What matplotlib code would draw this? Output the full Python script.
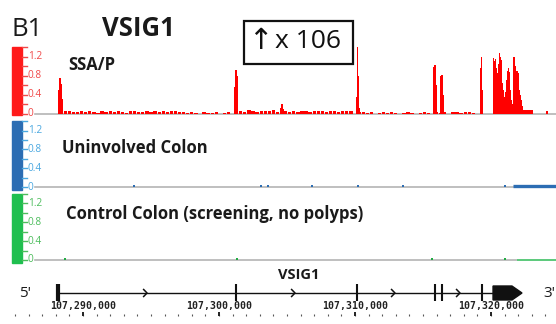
import matplotlib
matplotlib.use('Agg')
import matplotlib.pyplot as plt
from matplotlib.patches import Rectangle, Polygon
from matplotlib.transforms import blended_transform_factory

# ---------------- data (x positions in kb past chr position 107,280,000) ----------------
genome_origin = 107280000
x_range_kb = (4.78, 44.78)

track_names = ["SSA/P", "Uninvolved Colon", "Control Colon (screening, no polyps)"]
scale_ticks = [0, 0.4, 0.8, 1.2]
scale_labels = ["0", "0.4", "0.8", "1.2"]
minor_ticks = [0.2, 0.6, 1.0, 1.4]

# SSA/P background coverage in 0.3 kb bins starting at 8.7 kb
ssa_noise_start = 8.7
ssa_noise_step = 0.3
ssa_noise = [
    0.06, 0.05, 0.03, 0.04, 0.06, 0.03, 0.05, 0.04, 0.02, 0.05,
    0.04, 0.06, 0.03, 0.05, 0.04, 0.02, 0.05, 0.06, 0.04, 0.03,
    0.05, 0.04, 0.06, 0.03, 0.05, 0.04, 0.06, 0.05, 0.03, 0.04,
    0.02, 0.03, 0.02, 0.00, 0.03, 0.02, 0.02, 0.03, 0.00, 0.02,
    0.03, 0.00, 0.05, 0.06, 0.04, 0.07, 0.05, 0.04, 0.06, 0.05,
    0.05, 0.07, 0.04, 0.06, 0.05, 0.03, 0.06, 0.04, 0.05, 0.06,
    0.04, 0.05, 0.06, 0.05, 0.04, 0.06, 0.05, 0.04, 0.05, 0.06,
    0.05, 0.00, 0.04, 0.03, 0.02, 0.03, 0.00, 0.02, 0.03, 0.02,
    0.03, 0.02, 0.00, 0.02, 0.03, 0.02, 0.00, 0.02, 0.03, 0.02,
    0.00, 0.03, 0.02, 0.03, 0.00, 0.04, 0.03, 0.02, 0.04, 0.03,
    0.02,
]
# SSA/P isolated peaks
ssa_peak_kb = [8.24, 8.31, 8.38, 8.45,
               21.18, 21.25, 21.32,
               24.56, 24.63, 24.70,
               30.13, 30.20, 30.27, 30.34,
               35.81, 35.88, 35.95,
               36.33, 36.40, 36.47,
               39.23, 39.30, 39.37,
               44.12]
ssa_peak_val = [0.50, 0.74, 0.62, 0.30,
                0.55, 0.91, 0.78,
                0.12, 0.20, 0.10,
                0.35, 1.45, 0.80, 0.12,
                0.98, 1.03, 0.60,
                0.78, 0.82, 0.40,
                0.95, 1.19, 0.50,
                0.05]
# SSA/P dense cluster at the 3' end (contiguous bins)
ssa_cluster_start = 40.15
ssa_cluster_step = 0.0735
ssa_cluster = [
    1.16, 1.10, 1.15, 0.95, 0.85, 1.05, 1.27, 1.20, 1.12, 0.64,
    0.50, 0.35, 0.45, 0.70, 0.90, 0.95, 0.87, 0.50, 0.28, 0.20,
    0.18, 1.19, 1.00, 0.85, 0.90, 0.85, 0.50, 0.40, 0.28, 0.15,
    0.08, 0.08, 0.08, 0.08, 0.08, 0.08, 0.08, 0.08, 0.08, 0.08,
]

unin_kb = [13.75, 23.09, 23.60, 26.84, 30.22, 33.53, 41.03]
unin_val = [0.02, 0.02, 0.02, 0.02, 0.02, 0.02, 0.02]
unin_block_kb = [41.62, 44.78]
unin_block_val = 0.02

ctrl_kb = [8.68, 21.32, 35.66, 41.03]
ctrl_val = [0.02, 0.02, 0.02, 0.02]
ctrl_block_kb = [41.91, 44.78]
ctrl_block_val = 0.01

# gene model
gene_name = "VSIG1"
gene_start_kb = 8.16
exon_kb = [21.25, 30.15, 35.88, 36.40, 39.34]
cds_kb = [40.15, 41.54, 42.28]
chevron_kb = [14.71, 25.59, 32.94, 37.72]
coord_kb = [10, 20, 30, 40]
minor_coord_kb = list(range(5, 45))

# ---------------- figure ----------------
W, H = 556, 324
fig = plt.figure(figsize=(W / 100, H / 100), dpi=100)
FONT = "Open Sans"


def fx(x):
    return x / W


def fy(y):
    return 1 - y / H


def kb(xpx):
    return 10 + (xpx - 83) / 13.6


def add_track(bar_top, bar_bot, zero_y, px_per_unit, bar_color, label_color):
    ax = fig.add_axes([fx(12), fy(bar_bot), fx(544), (bar_bot - bar_top) / H])
    ax.set_xlim(*x_range_kb)
    ax.set_ylim(-(bar_bot - zero_y) / px_per_unit, (zero_y - bar_top) / px_per_unit)
    ax.axis("off")
    tr = blended_transform_factory(ax.transAxes, ax.transData)
    ax.add_patch(Rectangle((0, 0), 10 / 544, 1, transform=ax.transAxes,
                           color=bar_color, zorder=5, clip_on=False))
    for v in scale_ticks + minor_ticks:
        if v <= ax.get_ylim()[1] + 0.01:
            ax.plot([9.5 / 544, 15 / 544], [v, v], transform=tr, color=label_color,
                    lw=1.0, clip_on=False, zorder=6)
    for v, s in zip(scale_ticks, scale_labels):
        ax.text(16 / 544, v, s, transform=tr, ha="left", va="center",
                fontsize=7.3, color=label_color, family=FONT)
    ax.plot([kb(35), x_range_kb[1]], [0, 0], color="#b4b4b4", lw=1.2, zorder=1)
    return ax


# SSA/P track
ax1 = add_track(47, 115, 113.5, 47.5, "#ff1a1a", "#f04848")
ax1.bar([ssa_noise_start + i * ssa_noise_step for i in range(len(ssa_noise))], ssa_noise,
        width=0.24, color="#ff0000", linewidth=0, zorder=2)
ax1.bar(ssa_peak_kb, ssa_peak_val, width=0.09, color="#ff0000", linewidth=0, zorder=3)
ax1.bar([ssa_cluster_start + i * ssa_cluster_step for i in range(len(ssa_cluster))],
        ssa_cluster, width=ssa_cluster_step * 1.05, color="#ff0000", linewidth=0, zorder=3)

# Uninvolved colon
ax2 = add_track(120.7, 190, 187, 46.9, "#2c6db3", "#4aa8e0")
ax2.plot(unin_kb, unin_val, "s", ms=1.8, color="#2c6db3", mew=0, zorder=3)
ax2.plot(unin_block_kb, [unin_block_val] * 2, color="#2c6db3", lw=2.4, zorder=3,
         solid_capstyle="butt")

# Control colon
ax3 = add_track(194, 263, 260, 47.25, "#1fbf4f", "#4cbd5c")
ax3.plot(ctrl_kb, ctrl_val, "s", ms=1.5, color="#22aa44", mew=0, zorder=3)
ax3.plot(ctrl_block_kb, [ctrl_block_val] * 2, color="#55cc77", lw=1.3, zorder=3,
         solid_capstyle="butt")

# track labels
fig.text(fx(68), fy(65.5), track_names[0], fontsize=12, fontweight="bold",
         family=FONT, va="center", ha="left", color="#1a1a1a")
fig.text(fx(62), fy(148.5), track_names[1], fontsize=12, fontweight="bold",
         family=FONT, va="center", ha="left", color="#1a1a1a")
fig.text(fx(66), fy(214), track_names[2], fontsize=12, fontweight="bold",
         family=FONT, va="center", ha="left", color="#1a1a1a")

# titles
fig.text(fx(11), fy(36), "B1", fontsize=18.5, family=FONT,
         ha="left", va="baseline", color="#1a1a1a")
fig.text(fx(102), fy(36), "VSIG1", fontsize=18.5, family=FONT, fontweight="bold",
         ha="left", va="baseline", color="#1a1a1a")

# boxed annotation
fig.patches.append(Rectangle((fx(243.5), fy(64)), fx(109), 43.3 / H, transform=fig.transFigure,
                             fill=False, edgecolor="#111111", lw=1.6))
fig.text(fx(260), fy(41), "↑", fontsize=21, family=["DejaVu Sans"], ha="center",
         va="center", color="#111111")
fig.text(fx(275), fy(42), "x 106", fontsize=19, family=FONT, ha="left", va="center",
         color="#111111")

# gene track (y in pixel units)
axg = fig.add_axes([fx(12), 0, fx(544), fy(266)])
axg.set_xlim(*x_range_kb)
axg.set_ylim(324, 266)
axg.axis("off")
axg.plot([gene_start_kb, cds_kb[0]], [293, 293], color="#111111", lw=1.0)
axg.plot([gene_start_kb, gene_start_kb], [284.5, 301.5], color="#111111", lw=3.0,
         solid_capstyle="butt")
for e in exon_kb:
    axg.plot([e, e], [284.5, 301.5], color="#111111", lw=1.5, solid_capstyle="butt")
for c in chevron_kb:
    axg.plot([c - 0.25, c, c - 0.25], [289.5, 293, 296.5], color="#111111", lw=1.1)
axg.add_patch(Polygon([(cds_kb[0], 286), (cds_kb[1], 286), (cds_kb[2], 293),
                       (cds_kb[1], 300), (cds_kb[0], 300)], closed=True,
                      color="#111111"))
axg.text(kb(278), 275.5, gene_name, fontsize=10.5, fontweight="bold", family=FONT,
         ha="left", va="center", color="#1a1a1a")
axg.text(kb(19), 294, "5'", fontsize=11, family=FONT, ha="left", va="center",
         color="#1a1a1a")
axg.text(kb(543), 294, "3'", fontsize=11, family=FONT, ha="left", va="center",
         color="#1a1a1a")
for m in minor_coord_kb:
    axg.plot([m, m], [314, 315.8], color="#555555", lw=0.8, solid_capstyle="butt")
for c in coord_kb:
    axg.plot([c, c], [312.5, 316.5], color="#222222", lw=1.4, solid_capstyle="butt")
    axg.text(c, 306.5, f"{genome_origin + c * 1000:,}", fontsize=7.1, fontweight="bold",
             family="DejaVu Sans Mono", ha="center", va="center", color="#222222")

fig.savefig("out.png", dpi=100)
